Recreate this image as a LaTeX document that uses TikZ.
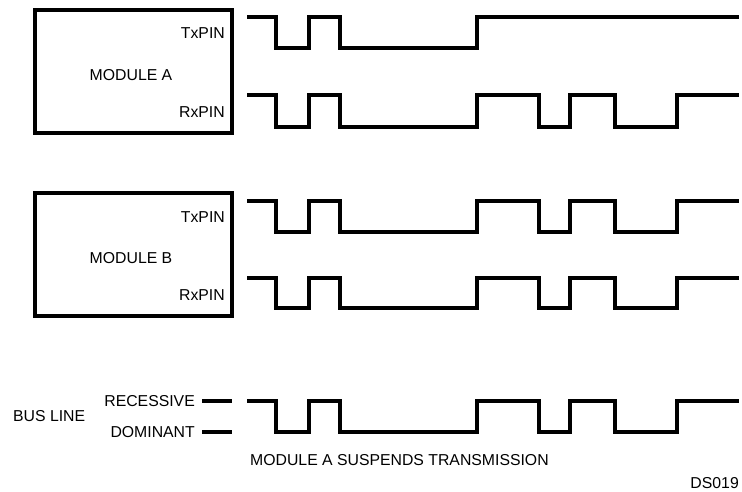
\documentclass[tikz,border=0pt]{standalone}
\usepackage{fontspec}
\setmainfont{Liberation Sans}

\tikzset{
  modbox/.style={draw, line width=3.3pt, minimum width=197pt, minimum height=123pt, inner sep=0pt},
  pinlabel/.style={anchor=east, font=\fontsize{15.8}{18}\selectfont, inner sep=0pt},
  txt/.style={font=\fontsize{15.8}{18}\selectfont, inner sep=0pt},
  wave/.style={line width=3.5pt, line join=miter},
}

% the common bit pattern seen on the bus
\newcommand{\buswave}[2]{%
  \draw[wave] (247,#1) -| (276,#2) -| (309,#1) -| (340,#2) -| (477,#1)
    -| (539,#2) -| (570,#1) -| (615,#2) -| (677,#1) -- (739,#1);
}

\begin{document}
\begin{tikzpicture}[x=1pt, y=-1pt]
  \useasboundingbox (0,0) rectangle (742,491);

  % module A
  \node[modbox] (modA) at (133.5,71.5) {};
  \node[txt] (nameA) at (131,75) {MODULE A};
  \node[pinlabel] (txA) at (225,33) {TxPIN};
  \node[pinlabel] (rxA) at (225,112) {RxPIN};
  \draw[wave] (247,17) -| (276,48) -| (309,17) -| (340,48) -| (477,17) -- (739,17);
  \buswave{95}{127}

  % module B
  \node[modbox] (modB) at (133.5,254.5) {};
  \node[txt] (nameB) at (131,258) {MODULE B};
  \node[pinlabel] (txB) at (225,217) {TxPIN};
  \node[pinlabel] (rxB) at (225,295) {RxPIN};
  \buswave{201}{232}
  \buswave{278}{308}

  % bus line
  \node[txt, anchor=west] (bus) at (13,416) {BUS LINE};
  \node[pinlabel] (rec) at (195,401) {RECESSIVE};
  \node[pinlabel] (dom) at (195,432) {DOMINANT};
  \coordinate (recend) at (232,401);
  \coordinate (domend) at (232,432);
  \draw[wave] ([xshift=7pt]rec.east |- recend) -- (recend);
  \draw[wave] ([xshift=7pt]dom.east |- domend) -- (domend);
  \buswave{401}{432}

  \node[txt, anchor=west] (note) at (250,460) {MODULE A SUSPENDS TRANSMISSION};
  \node[txt, anchor=east] (ds) at (739,483) {DS019};
\end{tikzpicture}
\end{document}
